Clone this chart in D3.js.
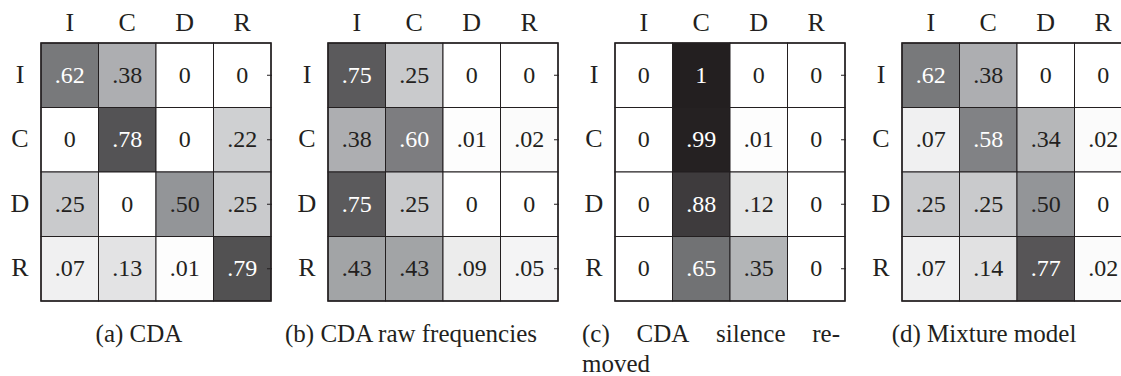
<!DOCTYPE html>
<html>
<head>
<meta charset="utf-8">
<script src="https://cdn.jsdelivr.net/npm/d3@7"></script>
<style>
  body { margin: 0; background: #fff; }
  svg { display: block; font-family: "Liberation Serif", "Times New Roman", serif; }
</style>
</head>
<body>
<div id="vis"></div>
<script>
// categories (rows = from, columns = to)
const cats = ['I', 'C', 'D', 'R'];

// transition matrices, one per panel
const cdaValues = [
  [.62, .38, 0, 0],
  [0, .78, 0, .22],
  [.25, 0, .50, .25],
  [.07, .13, .01, .79]
];
const rawValues = [
  [.75, .25, 0, 0],
  [.38, .60, .01, .02],
  [.75, .25, 0, 0],
  [.43, .43, .09, .05]
];
const silenceValues = [
  [0, 1, 0, 0],
  [0, .99, .01, 0],
  [0, .88, .12, 0],
  [0, .65, .35, 0]
];
const mixtureValues = [
  [.62, .38, 0, 0],
  [.07, .58, .34, .02],
  [.25, .25, .50, 0],
  [.07, .14, .77, .02]
];

const captions = ['(a) CDA', '(b) CDA raw frequencies', '(c) CDA silence re-|moved', '(d) Mixture model'];

const width = 1121, height = 376;
const panels = [
  { values: cdaValues, left: 41, capX: 139 },
  { values: rawValues, left: 328, capX: 411 },
  { values: silenceValues, left: 615, capX: 711, justify: [582, 840] },
  { values: mixtureValues, left: 902, capX: 984 }
];
panels.forEach(function (p, i) { p.caption = captions[i]; });

const gridTop = 43, cellW = 57.5, cellH = 64.5;

// grey ramp: 0 -> white, 1 -> almost black
const fill = d3.scaleLinear()
  .domain([0, 0.5, 1])
  .range(['#ffffff', '#939598', '#231f20']);

function fmt(v) {
  if (v === 0) return '0';
  if (v === 1) return '1';
  return d3.format('.2f')(v).replace(/^0/, '');
}

const svg = d3.select('#vis').append('svg')
  .attr('width', width)
  .attr('height', height);

panels.forEach(function (p) {
  const x = d3.scaleBand().domain(cats).range([p.left, p.left + cellW * 4]);
  const y = d3.scaleBand().domain(cats).range([gridTop, gridTop + cellH * 4]);
  const g = svg.append('g');

  const cells = [];
  p.values.forEach(function (row, ri) {
    row.forEach(function (v, ci) {
      cells.push({ from: cats[ri], to: cats[ci], v: v });
    });
  });

  g.selectAll('rect.cell')
    .data(cells)
    .join('rect')
    .attr('class', 'cell')
    .attr('x', d => x(d.to))
    .attr('y', d => y(d.from))
    .attr('width', x.bandwidth())
    .attr('height', y.bandwidth())
    .attr('fill', d => fill(d.v))
    .attr('stroke', '#231f20')
    .attr('stroke-width', 1);

  g.selectAll('text.val')
    .data(cells)
    .join('text')
    .attr('class', 'val')
    .attr('x', d => x(d.to) + x.bandwidth() / 2)
    .attr('y', d => y(d.from) + y.bandwidth() / 2 + 7.5)
    .attr('text-anchor', 'middle')
    .attr('font-size', 24)
    .attr('fill', d => d.v > 0.55 ? '#ffffff' : '#231f20')
    .text(d => fmt(d.v));

  // outer frame
  g.append('rect')
    .attr('x', x.range()[0])
    .attr('y', y.range()[0])
    .attr('width', cellW * 4)
    .attr('height', cellH * 4)
    .attr('fill', 'none')
    .attr('stroke', '#231f20')
    .attr('stroke-width', 1.5);

  // column labels
  g.selectAll('text.col')
    .data(cats)
    .join('text')
    .attr('class', 'col')
    .attr('x', d => x(d) + x.bandwidth() / 2)
    .attr('y', 31)
    .attr('text-anchor', 'middle')
    .attr('font-size', 26)
    .attr('fill', '#231f20')
    .text(d => d);

  // row labels
  g.selectAll('text.row')
    .data(cats)
    .join('text')
    .attr('class', 'row')
    .attr('x', p.left - 21)
    .attr('y', d => y(d) + y.bandwidth() / 2 + 7.5)
    .attr('text-anchor', 'middle')
    .attr('font-size', 26)
    .attr('fill', '#231f20')
    .text(d => d);

  // little ticks on the right edge
  const right = x.range()[1];
  g.selectAll('line.tick')
    .data(cats)
    .join('line')
    .attr('class', 'tick')
    .attr('x1', right - 4)
    .attr('x2', right + 1)
    .attr('y1', d => y(d) + y.bandwidth() / 2)
    .attr('y2', d => y(d) + y.bandwidth() / 2)
    .attr('stroke', '#231f20')
    .attr('stroke-width', 1);

  // caption
  const lines = p.caption.split('|');
  if (p.justify) {
    // justified first line, second line flush left
    const words = lines[0].split(' ');
    const wt = g.selectAll('text.capw')
      .data(words)
      .join('text')
      .attr('class', 'capw')
      .attr('y', 342)
      .attr('font-size', 25)
      .attr('fill', '#231f20')
      .text(d => d);
    const widths = wt.nodes().map(n => n.getComputedTextLength());
    const total = d3.sum(widths);
    const gap = (p.justify[1] - p.justify[0] - total) / (words.length - 1);
    let cx = p.justify[0];
    wt.attr('x', function (d, i) {
      const pos = cx;
      cx += widths[i] + gap;
      return pos;
    });
    g.append('text')
      .attr('x', p.justify[0])
      .attr('y', 372)
      .attr('font-size', 25)
      .attr('fill', '#231f20')
      .text(lines[1]);
  } else {
    g.append('text')
      .attr('x', p.capX)
      .attr('y', 342)
      .attr('text-anchor', 'middle')
      .attr('font-size', 25)
      .attr('fill', '#231f20')
      .text(lines[0]);
  }
});
</script>
</body>
</html>
